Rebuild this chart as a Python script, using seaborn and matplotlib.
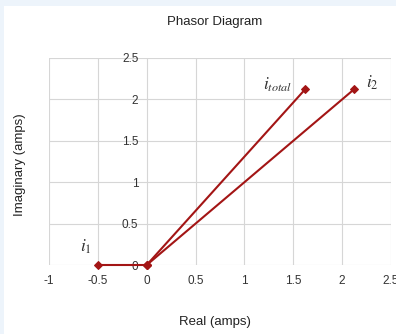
import matplotlib
matplotlib.use("Agg")
import matplotlib.pyplot as plt
import matplotlib.patches as mpatches
import pandas as pd
import seaborn as sns

# phasor tips (real, imaginary), all drawn from the origin
vectors = ["i1", "i2", "itotal"]
real_parts = [-0.5, 2.12, 1.62]
imag_parts = [0.0, 2.12, 2.12]
labels = [r"$i_{1}$", r"$i_{2}$", r"$i_{total}$"]

x_ticks = [-1, -0.5, 0, 0.5, 1, 1.5, 2, 2.5]
y_ticks = [0, 0.5, 1, 1.5, 2, 2.5]

rows = []
for name, re, im in zip(vectors, real_parts, imag_parts):
    rows.append({"vector": name, "real": 0.0, "imag": 0.0})
    rows.append({"vector": name, "real": re, "imag": im})
df = pd.DataFrame(rows)

sns.set_style("white")
plt.rcParams["font.family"] = ["Liberation Sans", "DejaVu Sans"]
plt.rcParams["mathtext.fontset"] = "stix"

fig = plt.figure(figsize=(3.96, 3.34), dpi=100, facecolor="#edf4fb")
fig.patches.append(mpatches.Rectangle((4 / 396, 0), 1, 1 - 6 / 334,
                                      transform=fig.transFigure,
                                      facecolor="white", edgecolor="none", zorder=-1))
ax = fig.add_axes([49 / 396, 69 / 334, 342 / 396, 207 / 334])
ax.set_facecolor("none")

red = "#a31515"
sns.lineplot(data=df, x="real", y="imag", units="vector", estimator=None,
             sort=False, color=red, linewidth=1.5, marker="D", markersize=4.5,
             markeredgecolor=red, ax=ax, clip_on=False, zorder=3)

ax.set_xlim(-1, 2.5)
ax.set_ylim(0, 2.5)
ax.set_xticks(x_ticks)
ax.set_yticks(y_ticks)
ax.set_xticklabels([f"{t:g}" for t in x_ticks])
ax.set_yticklabels([f"{t:g}" for t in y_ticks])
ax.grid(True, color="#d6d6d6", linewidth=0.8)
for s in ax.spines.values():
    s.set_visible(False)
ax.spines["left"].set_position(("data", 0))
ax.tick_params(axis="both", length=0, labelsize=8.5, labelcolor="#333333")
ax.tick_params(axis="x", pad=7)
ax.tick_params(axis="y", pad=6)

ax.set_xlabel("")
ax.set_ylabel("")
fig.text(215 / 396, 1 - 322 / 334, "Real (amps)", ha="center", va="center",
         fontsize=9.5, color="#222222")
fig.text(20 / 396, 1 - 165 / 334, "Imaginary (amps)", ha="center", va="center",
         rotation=90, fontsize=9.5, color="#222222")
fig.text(215 / 396, 1 - 22 / 334, "Phasor Diagram", ha="center", va="center",
         fontsize=9.5, color="#222222")

label_pos = [(-0.62, 0.22), (2.31, 2.2), (1.34, 2.18)]
for lab, (lx, ly) in zip(labels, label_pos):
    ax.text(lx, ly, lab, fontsize=12.5, color="#333333", ha="center", va="center")

fig.savefig("out.png", dpi=100, facecolor=fig.get_facecolor())
